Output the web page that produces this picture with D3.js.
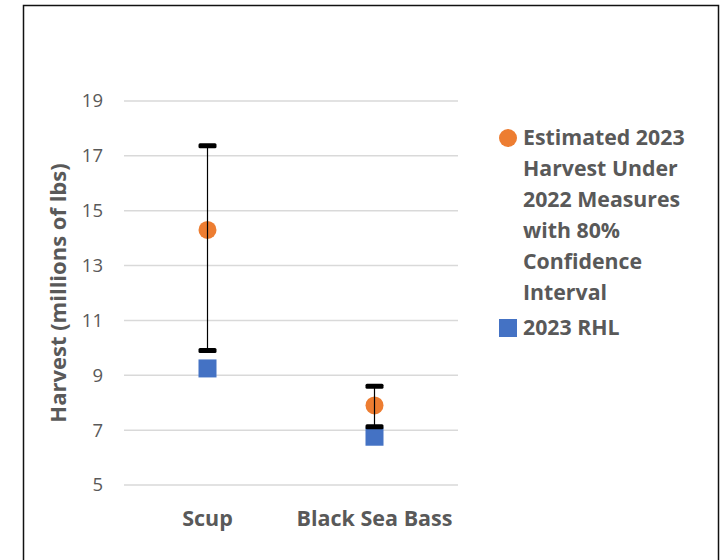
<!DOCTYPE html>
<html><head><meta charset="utf-8">
<script src="https://cdn.jsdelivr.net/npm/d3@7"></script>
<style>body{margin:0;background:#fff}svg{display:block}</style>
</head><body>
<svg id="c" width="721" height="560"></svg>
<script>
const categories = ["Scup", "Black Sea Bass"];
const estimate = [14.3, 7.9];
const ciLow = [9.9, 7.12];
const ciHigh = [17.37, 8.6];
const rhl = [9.25, 6.76];
const yTicks = [5, 7, 9, 11, 13, 15, 17, 19];
const legendEst = ["Estimated 2023", "Harvest Under", "2022 Measures", "with 80%", "Confidence", "Interval"];
const legendRhl = "2023 RHL";

const svg = d3.select("#c");
const font = "'Open Sans', 'Liberation Sans', sans-serif";
svg.append("rect").attr("x", 23.5).attr("y", 5.5).attr("width", 695).attr("height", 600)
  .attr("fill", "#fff").attr("stroke", "#111").attr("stroke-width", 1.5);

const x = d3.scaleBand().domain(categories).range([124, 458]);
const y = d3.scaleLinear().domain([5, 19]).range([485, 101]);

// gridlines
svg.append("g").selectAll("line").data(yTicks).join("line")
  .attr("x1", 124).attr("x2", 458)
  .attr("y1", d => y(d)).attr("y2", d => y(d))
  .attr("stroke", "#d9d9d9").attr("stroke-width", 1.5);

// y axis
const yAxis = svg.append("g").attr("transform", "translate(112,0)")
  .call(d3.axisLeft(y).tickValues(yTicks).tickSize(0).tickPadding(9));
yAxis.select(".domain").remove();
yAxis.selectAll("text").attr("font-family", font).attr("font-size", 18.5).attr("fill", "#595959");

// x axis
const xAxis = svg.append("g").attr("transform", "translate(0,500)")
  .call(d3.axisBottom(x).tickSize(0).tickPadding(11));
xAxis.select(".domain").remove();
xAxis.selectAll("text").attr("font-family", font).attr("font-size", 21.5).attr("font-weight", "bold").attr("fill", "#595959");

// axis title
svg.append("text").attr("transform", `translate(66,${(y(5) + y(19)) / 2}) rotate(-90)`)
  .attr("text-anchor", "middle").attr("font-family", font).attr("font-size", 22)
  .attr("font-weight", "bold").attr("fill", "#595959").text("Harvest (millions of lbs)");

const cx = d => x(d) + x.bandwidth() / 2;
const idx = categories.map((c, i) => i);

// RHL squares
svg.append("g").selectAll("rect").data(idx).join("rect")
  .attr("x", i => cx(categories[i]) - 9).attr("y", i => y(rhl[i]) - 9)
  .attr("width", 18).attr("height", 18).attr("fill", "#4472C4");

// estimate circles
svg.append("g").selectAll("circle").data(idx).join("circle")
  .attr("cx", i => cx(categories[i])).attr("cy", i => y(estimate[i]))
  .attr("r", 9).attr("fill", "#ED7D31");

// error bars
const eb = svg.append("g");
eb.selectAll("line").data(idx).join("line")
  .attr("x1", i => cx(categories[i])).attr("x2", i => cx(categories[i]))
  .attr("y1", i => y(ciHigh[i])).attr("y2", i => y(ciLow[i]))
  .attr("stroke", "#000").attr("stroke-width", 1.2);
eb.selectAll("rect.hi").data(idx).join("rect").attr("class", "hi")
  .attr("x", i => cx(categories[i]) - 9).attr("y", i => y(ciHigh[i]) - 2.5)
  .attr("width", 18).attr("height", 5).attr("rx", 1.5).attr("fill", "#000");
eb.selectAll("rect.lo").data(idx).join("rect").attr("class", "lo")
  .attr("x", i => cx(categories[i]) - 9).attr("y", i => y(ciLow[i]) - 2.5)
  .attr("width", 18).attr("height", 5).attr("rx", 1.5).attr("fill", "#000");

// legend
const lg = svg.append("g");
lg.append("circle").attr("cx", 508).attr("cy", 138).attr("r", 9).attr("fill", "#ED7D31");
lg.selectAll("text.e").data(legendEst).join("text").attr("class", "e")
  .attr("x", 523).attr("y", (d, i) => 145 + i * 31)
  .attr("font-family", font).attr("font-size", 21.3).attr("font-weight", "bold").attr("fill", "#595959")
  .text(d => d);
lg.append("rect").attr("x", 499).attr("y", 319).attr("width", 18).attr("height", 18).attr("fill", "#4472C4");
lg.append("text").attr("x", 523).attr("y", 335)
  .attr("font-family", font).attr("font-size", 21.3).attr("font-weight", "bold").attr("fill", "#595959")
  .text(legendRhl);
</script>
</body></html>
